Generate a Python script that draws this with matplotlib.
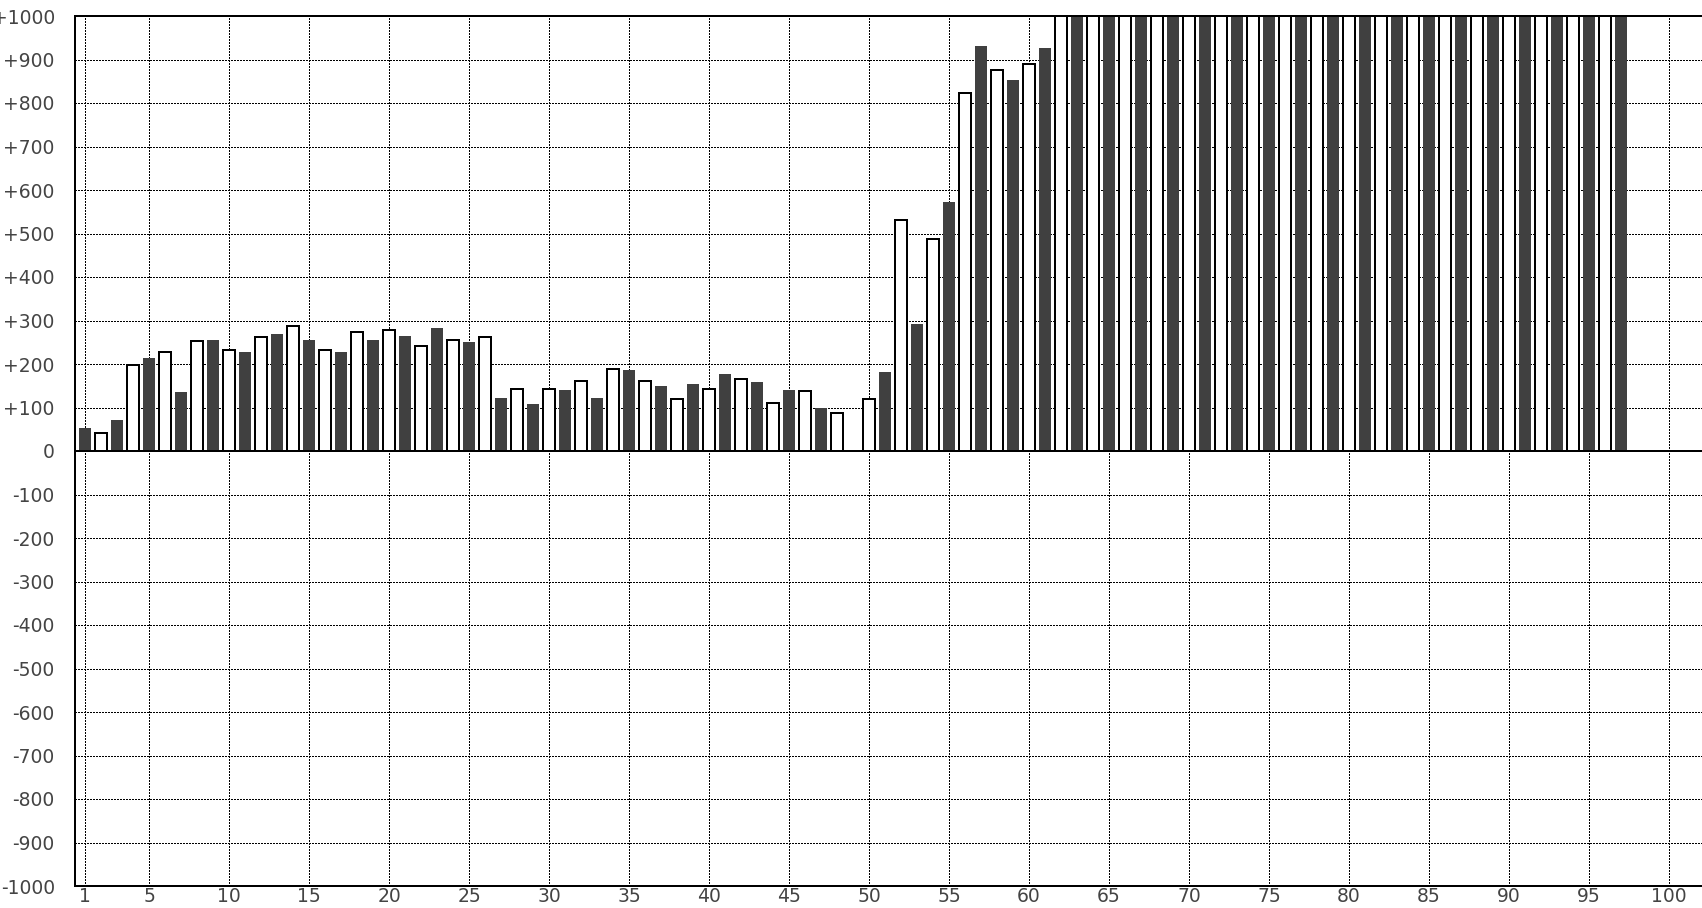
import matplotlib
matplotlib.use("Agg")
import matplotlib.pyplot as plt

# ---- data ----
bar_index = list(range(1, 98))
values = [
    53, 42, 71, 198, 214, 227, 135, 254, 255, 232,
    228, 263, 269, 287, 255, 232, 228, 273, 255, 278,
    265, 241, 283, 255, 251, 263, 122, 143, 108, 143,
    140, 162, 122, 189, 186, 162, 149, 120, 154, 143,
    177, 166, 158, 111, 140, 138, 98, 88, 0, 120,
    182, 530, 291, 488, 572, 824, 931, 875, 853, 889,
    926, 1000, 1000, 1000, 1000, 1000, 1000, 1000, 1000, 1000,
    1000, 1000, 1000, 1000, 1000, 1000, 1000, 1000, 1000, 1000,
    1000, 1000, 1000, 1000, 1000, 1000, 1000, 1000, 1000, 1000,
    1000, 1000, 1000, 1000, 1000, 1000, 1000,
]
x_ticks = [1, 5, 10, 15, 20, 25, 30, 35, 40, 45, 50, 55, 60, 65, 70, 75, 80, 85, 90, 95, 100]
y_ticks = list(range(-1000, 1001, 100))
y_tick_labels = [("+%d" % v if v > 0 else "%d" % v) for v in y_ticks]

# ---- figure ----
W, H, DPI = 1702, 908, 100
fig = plt.figure(figsize=(W / DPI, H / DPI), dpi=DPI)
left, right = 75 / W, 1.0
bottom, top = (H - 886) / H, (H - 16) / H
ax = fig.add_axes([left, bottom, right - left, top - bottom])

px = 72 / DPI  # one pixel in points
dark_x = [i for i in bar_index if i % 2 == 1]
dark_v = [values[i - 1] for i in dark_x]
white_x = [i for i in bar_index if i % 2 == 0]
white_v = [values[i - 1] for i in white_x]

ax.bar(dark_x, dark_v, width=0.75, color="#404040", edgecolor="none", zorder=2)
ax.bar(white_x, white_v, width=0.75, color="white", edgecolor="black",
       linewidth=2 * px, zorder=2)
ax.axhline(0, color="black", linewidth=2 * px, zorder=3)

ax.set_xlim(0.375, 102.06)
ax.set_ylim(-1000, 1000)
ax.set_xticks(x_ticks)
ax.set_xticklabels([str(v) for v in x_ticks])
ax.set_yticks(y_ticks)
ax.set_yticklabels(y_tick_labels)

ax.grid(False)
# dotted grid lines drawn crisp (no antialiasing) so they read as black dots
for y in y_ticks:
    if y in (-1000, 0, 1000):
        continue
    ax.axhline(y, color="black", linewidth=1 * px, linestyle=(0, (2, 2)),
               antialiased=False, zorder=1)
for x in x_ticks:
    ax.axvline(x, color="black", linewidth=1 * px, linestyle=(0, (2, 2)),
               antialiased=False, zorder=1)

for s in ["left", "bottom", "top"]:
    ax.spines[s].set_linewidth(2 * px)
    ax.spines[s].set_color("black")
ax.spines["right"].set_visible(False)

ax.tick_params(axis="both", length=0, labelsize=13.5, labelcolor="#444444")
ax.tick_params(axis="y", pad=14.5)
ax.tick_params(axis="x", pad=1)
for lab in ax.get_xticklabels() + ax.get_yticklabels():
    lab.set_fontfamily("DejaVu Sans")

fig.savefig("out.png", dpi=DPI)
